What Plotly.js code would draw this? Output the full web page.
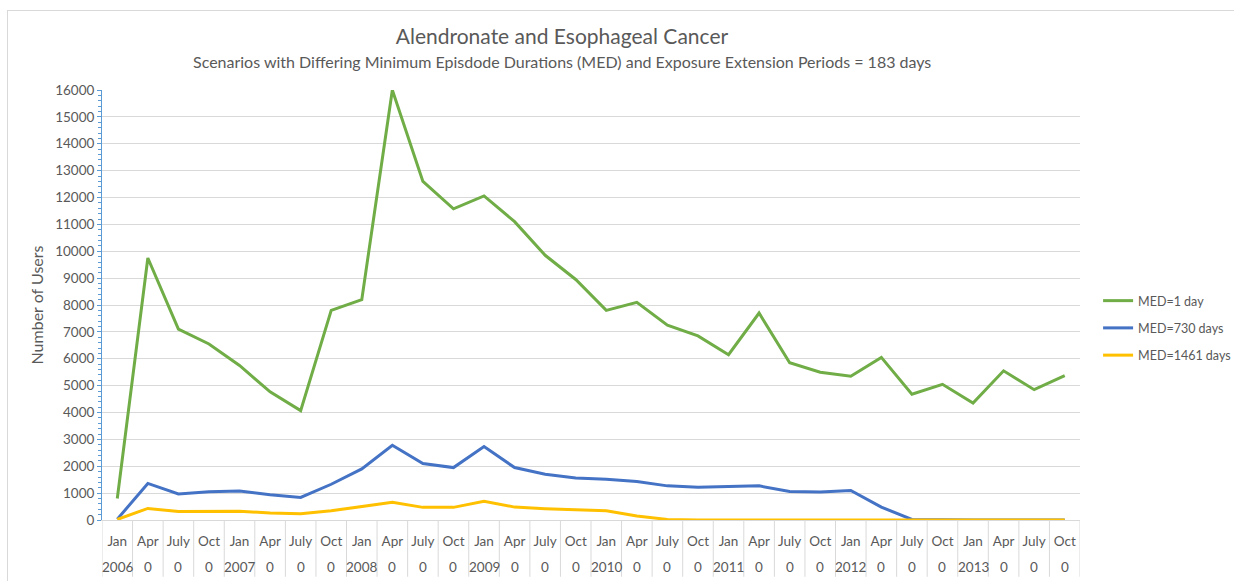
<!DOCTYPE html>
<html>
<head>
<meta charset="utf-8">
<script src="https://cdn.plot.ly/plotly-3.0.1.min.js"></script>
<style>
  html, body { margin: 0; padding: 0; background: #ffffff; }
  #wrap { position: relative; width: 1234px; height: 581px; overflow: hidden; }
  #frame { position: absolute; left: 7px; top: 10px; width: 1240px; height: 580px; border: 1px solid #d9d9d9; box-sizing: border-box; }
  #chart { position: absolute; left: 0; top: 0; width: 1234px; height: 581px; }
</style>
</head>
<body>
<div id="wrap">
  <div id="frame"></div>
  <div id="chart"></div>
</div>
<script>
// ---- data ----
const quarters = ["Jan","Apr","July","Oct","Jan","Apr","July","Oct","Jan","Apr","July","Oct","Jan","Apr","July","Oct",
                  "Jan","Apr","July","Oct","Jan","Apr","July","Oct","Jan","Apr","July","Oct","Jan","Apr","July","Oct"];
const yearLabels = ["2006","0","0","0","2007","0","0","0","2008","0","0","0","2009","0","0","0",
                    "2010","0","0","0","2011","0","0","0","2012","0","0","0","2013","0","0","0"];
const med1 = [800, 9750, 7100, 6550, 5750, 4770, 4070, 7800, 8200, 16000, 12600, 11580, 12060, 11100, 9850, 8950,
              7800, 8100, 7250, 6850, 6150, 7700, 5850, 5500, 5350, 6050, 4680, 5050, 4350, 5550, 4850, 5370];
const med730 = [30, 1360, 970, 1050, 1080, 940, 840, 1330, 1900, 2780, 2100, 1950, 2730, 1950, 1700, 1560,
                1520, 1430, 1270, 1220, 1250, 1270, 1060, 1040, 1100, 480, 20, 0, 0, 0, 0, 0];
const med1461 = [20, 430, 320, 320, 330, 260, 230, 340, 500, 660, 470, 470, 700, 480, 420, 380,
                 340, 150, 20, 0, 0, 0, 0, 0, 0, 0, 0, 0, 0, 0, 0, 0];
const seriesNames = ["MED=1 day", "MED=730 days", "MED=1461 days"];
const seriesColors = ["#70ad47", "#4472c4", "#ffc000"];

// ---- build ----
const idx = quarters.map((_, i) => i);
const FONT = "Lato, 'Open Sans', sans-serif";
const TXT = "#595959";
const TICK = 13.5;

const traces = [med1, med730, med1461].map((vals, k) => ({
  type: "scatter",
  mode: "lines",
  x: idx,
  y: vals,
  name: seriesNames[k],
  legendgroup: "g" + k,
  line: { color: seriesColors[k], width: 3 },
  hoverinfo: "x+y+name"
}));

const shapes = [];
for (let i = 0; i <= quarters.length; i++) {
  shapes.push({
    type: "line", xref: "x", yref: "paper",
    x0: i - 0.5, x1: i - 0.5, y0: 0, y1: -0.132,
    line: { color: "#d9d9d9", width: 1 }
  });
}

const annotations = yearLabels.map((t, i) => ({
  text: t, xref: "x", yref: "paper", x: i, y: -0.109,
  xanchor: "center", yanchor: "middle", showarrow: false,
  font: { family: FONT, size: TICK, color: TXT }
}));
annotations.push({
  text: "Scenarios with Differing Minimum Episdode Durations (MED) and Exposure Extension Periods = 183 days",
  xref: "paper", yref: "paper", x: 0.4703, y: 1.0665,
  xanchor: "center", yanchor: "middle", showarrow: false,
  font: { family: FONT, size: 16, color: TXT }
});

const layout = {
  width: 1234, height: 581,
  paper_bgcolor: "rgba(0,0,0,0)",
  plot_bgcolor: "#ffffff",
  margin: { l: 102, r: 154, t: 90, b: 61, pad: 0, autoexpand: false },
  title: {
    text: "Alendronate and Esophageal Cancer",
    x: 0.4554, xanchor: "center", xref: "container",
    y: 1 - 37 / 581, yanchor: "middle", yref: "container",
    font: { family: FONT, size: 21, color: TXT }
  },
  xaxis: {
    range: [-0.5, quarters.length - 0.5],
    tickmode: "array", tickvals: idx, ticktext: quarters,
    ticks: "", showgrid: false, zeroline: false,
    showline: true, linecolor: "#d9d9d9", linewidth: 1,
    ticklabelstandoff: 9,
    tickfont: { family: FONT, size: TICK, color: TXT },
    automargin: false,
    fixedrange: true
  },
  yaxis: {
    range: [0, 16000], dtick: 1000, tick0: 0, tickformat: "d",
    showgrid: true, gridcolor: "#d9d9d9", gridwidth: 1,
    zeroline: false,
    showline: true, linecolor: "#5b9bd5", linewidth: 1,
    ticks: "outside", ticklen: 4, tickcolor: "#5b9bd5",
    minor: { dtick: 200, ticks: "outside", ticklen: 3, tickcolor: "#5b9bd5", showgrid: false },
    tickfont: { family: FONT, size: TICK, color: TXT },
    title: { text: "Number of Users", standoff: 7, font: { family: FONT, size: 16, color: TXT } },
    automargin: false,
    fixedrange: true
  },
  legend: {
    x: 1.0185, xanchor: "left", y: 0.4465, yanchor: "middle",
    traceorder: "grouped", tracegroupgap: 8,
    font: { family: FONT, size: 12.5, color: TXT },
    bgcolor: "rgba(0,0,0,0)", itemwidth: 30
  },
  shapes: shapes,
  annotations: annotations,
  showlegend: true
};

Plotly.newPlot("chart", traces, layout, { displayModeBar: false, staticPlot: true });
</script>
</body>
</html>
